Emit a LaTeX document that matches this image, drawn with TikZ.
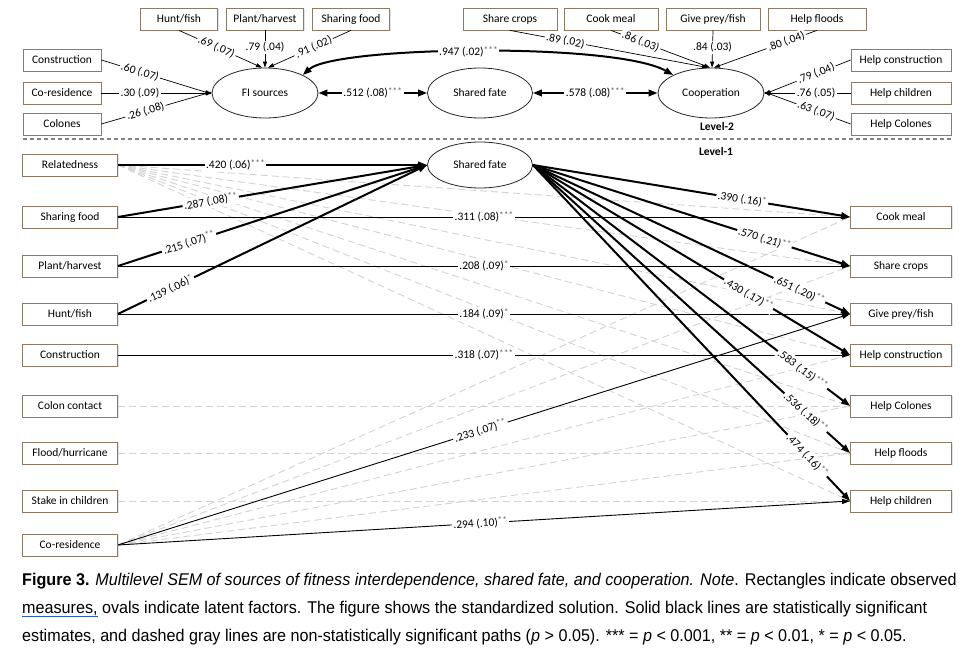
\documentclass[tikz,border=0pt]{standalone}
\usepackage{fontspec}
\setmainfont{Carlito}
\newfontfamily\capfont[FakeStretch=0.95]{Liberation Sans}
\usetikzlibrary{arrows.meta,shapes.geometric,calc,shadows}
\definecolor{boxline}{RGB}{140,122,102}
\definecolor{dashgray}{RGB}{210,210,210}
\definecolor{stargray}{RGB}{95,95,95}
\definecolor{linkblue}{RGB}{50,90,190}
\definecolor{sepgray}{RGB}{130,130,130}
\newcommand{\stz}[1]{\raisebox{0.45ex}{\textcolor{stargray}{\fontsize{9.5}{9.5}\selectfont #1}}}
\begin{document}
\begin{tikzpicture}[x=1pt,y=-1pt,
  font=\fontsize{11.5}{13}\selectfont,
  obs/.style={draw=boxline, line width=0.8pt, fill=white, minimum height=22pt, inner sep=0pt,
    drop shadow={shadow xshift=1.2pt, shadow yshift=-1.2pt, fill=black!22}},
  lobs/.style={obs, minimum width=95pt},
  robs/.style={obs, minimum width=101pt},
  lat/.style={ellipse, draw=black!85, line width=0.8pt, fill=white, minimum width=106pt, minimum height=50pt, inner sep=0pt},
  lab/.style={fill=white, inner sep=1.5pt, font=\fontsize{11.5}{13}\selectfont},
  thk/.style={line width=2pt, -{Triangle[length=9pt,width=6.5pt]}},
  thkdbl/.style={line width=2pt, {Triangle[length=9pt,width=6.5pt]}-{Triangle[length=9pt,width=6.5pt]}},
  thn/.style={line width=0.9pt, -{Triangle[length=8pt,width=5pt]}},
  ld/.style={line width=0.7pt, -{Triangle[length=6pt,width=4pt]}},
  ns/.style={dashgray, line width=0.9pt, dash pattern=on 7pt off 4pt},
  sepline/.style={sepgray, line width=1.2pt, dash pattern=on 4pt off 3pt},
  lvl/.style={font=\fontsize{11.5}{13}\selectfont\bfseries}
]
\useasboundingbox (0,0) rectangle (964,655);

% ---------------- Level 2 ----------------
\node[obs, minimum width=77pt] (hf2) at (179,19) {Hunt/fish};
\node[obs, minimum width=77pt] (ph2) at (265,19) {Plant/harvest};
\node[obs, minimum width=77pt] (sh2) at (351,19) {Sharing food};
\node[obs, minimum width=78pt] (con2) at (62,60) {Construction};
\node[obs, minimum width=78pt] (cor2) at (62,93) {Co-residence};
\node[obs, minimum width=78pt] (col2) at (62,124) {Colones};
\node[lat] (fi) at (265,93) {FI sources};
\node[lat, minimum width=105pt] (sf2) at (480,93) {Shared fate};
\node[lat] (coop) at (711,93) {Cooperation};
\node[obs, minimum width=94pt] (scr2) at (510,19) {Share crops};
\node[obs, minimum width=94pt] (ckm2) at (611,19) {Cook meal};
\node[obs, minimum width=94pt] (gpf2) at (713,19) {Give prey/fish};
\node[obs, minimum width=98pt] (hfl2) at (817,19) {Help floods};
\node[obs, minimum width=100pt] (hcon2) at (901,60) {Help construction};
\node[obs, minimum width=100pt] (hch2) at (901,93) {Help children};
\node[obs, minimum width=100pt] (hcol2) at (901,124) {Help Colones};

\draw[ld] (hf2.south) -- node[lab,sloped,pos=0.45]{.69 (.07)} ([xshift=-3pt]fi.north);
\draw[ld] (ph2.south) -- node[lab,pos=0.45]{.79 (.04)} (fi.north);
\draw[ld] (sh2.south) -- node[lab,sloped,pos=0.45]{.91 (.02)} ([xshift=3pt]fi.north);
\draw[ld] (con2.east) -- node[lab,sloped,pos=0.35]{.60 (.07)} ([yshift=-1pt]fi.west);
\draw[ld] (cor2.east) -- node[lab,pos=0.35]{.30 (.09)} (fi.west);
\draw[ld] (col2.east) -- node[lab,sloped,pos=0.4]{.26 (.08)} ([yshift=1pt]fi.west);

\draw[ld] (scr2.south) -- node[lab,sloped,pos=0.28]{.89 (.02)} ([xshift=-3pt]coop.north);
\draw[ld] (ckm2.south) -- node[lab,sloped,pos=0.3]{.86 (.03)} ([xshift=-1pt]coop.north);
\draw[ld] (gpf2.south) -- node[lab,pos=0.45]{.84 (.03)} ([xshift=1pt]coop.north);
\draw[ld] (hfl2.south) -- node[lab,sloped,pos=0.3]{.80 (.04)} ([xshift=3pt]coop.north);
\draw[ld] (hcon2.west) -- node[lab,sloped,pos=0.4]{.79 (.04)} ([yshift=-1pt]coop.east);
\draw[ld] (hch2.west) -- node[lab,pos=0.4]{.76 (.05)} (coop.east);
\draw[ld] (hcol2.west) -- node[lab,sloped,pos=0.4]{.63 (.07)} ([yshift=1pt]coop.east);

\draw[thkdbl] (fi.east) -- node[lab]{.512 (.08)\stz{***}} (sf2.west);
\draw[thkdbl] (sf2.east) -- node[lab]{.578 (.08)\stz{***}} (coop.west);
\draw[thkdbl] (fi.north east) .. controls (335,46) and (615,42) .. node[lab,pos=0.48]{.947 (.02)\stz{***}} (coop.north west);

\node[lvl] (lv2) at (717,127) {Level-2};
\coordinate (sepL) at (23,139);
\coordinate (sepR) at (951,139);
\draw[sepline] (sepL) -- (sepR);
\node[lvl] (lv1) at (716,152) {Level-1};

% ---------------- Level 1 ----------------
\node[lobs] (rel) at (70,165) {Relatedness};
\node[lobs] (shf) at (70,217) {Sharing food};
\node[lobs] (phv) at (70,266) {Plant/harvest};
\node[lobs] (hfs) at (70,314) {Hunt/fish};
\node[lobs] (con) at (70,355) {Construction};
\node[lobs] (colc) at (70,406) {Colon contact};
\node[lobs] (flood) at (70,453) {Flood/hurricane};
\node[lobs] (stake) at (70,501) {Stake in children};
\node[lobs] (cores) at (70,545) {Co-residence};

\node[robs] (cook) at (901,217) {Cook meal};
\node[robs] (scrop) at (901,266) {Share crops};
\node[robs] (gprey) at (901,314) {Give prey/fish};
\node[robs] (hcon) at (901,355) {Help construction};
\node[robs] (hcol) at (901,406) {Help Colones};
\node[robs] (hflo) at (901,453) {Help floods};
\node[robs] (hchi) at (901,501) {Help children};

\node[lat, minimum height=46pt, minimum width=105pt] (sf) at (480,165) {Shared fate};

% non-significant paths
\foreach \t in {cook,scrop,gprey,hcon,hcol,hflo,hchi}
  \draw[ns] (rel.east) -- (\t.west);
\foreach \t in {cook,scrop,hcon,hcol,hflo}
  \draw[ns] (cores.east) -- (\t.west);
\draw[ns] (colc.east) -- (hcol.west);
\draw[ns] (flood.east) -- (hflo.west);
\draw[ns] (stake.east) -- (hchi.west);

% direct predictor -> outcome paths
\draw[thn] (shf.east) -- node[lab,pos=0.5]{.311 (.08)\stz{***}} (cook.west);
\draw[thn] (phv.east) -- node[lab,pos=0.5]{.208 (.09)\stz{*}} (scrop.west);
\draw[thn] (hfs.east) -- node[lab,pos=0.5]{.184 (.09)\stz{*}} (gprey.west);
\draw[thn] (con.east) -- node[lab,pos=0.5]{.318 (.07)\stz{***}} (hcon.west);
\draw[thn] (cores.east) -- node[lab,sloped,pos=0.495]{.233 (.07)\stz{**}} (gprey.west);
\draw[thn] (cores.east) -- node[lab,sloped,pos=0.495]{.294 (.10)\stz{**}} (hchi.west);

% predictors -> shared fate
\draw[thk] (rel.east) -- node[lab,pos=0.38]{.420 (.06)\stz{***}} (sf.west);
\draw[thk] (shf.east) -- node[lab,sloped,pos=0.30]{.287 (.08)\stz{**}} (sf.west);
\draw[thk] (phv.east) -- node[lab,sloped,pos=0.23]{.215 (.07)\stz{**}} (sf.west);
\draw[thk] (hfs.east) -- node[lab,sloped,pos=0.17]{.139 (.06)\stz{*}} (sf.west);

% shared fate -> outcomes
\draw[thk] (sf.east) -- node[lab,sloped,pos=0.66]{.390 (.16)\stz{*}} (cook.west);
\draw[thk] (sf.east) -- node[lab,sloped,pos=0.73]{.570 (.21)\stz{**}} (scrop.west);
\draw[thk] (sf.east) -- node[lab,sloped,pos=0.84]{.651 (.20)\stz{**}} (gprey.west);
\draw[thk] (sf.east) -- node[lab,sloped,pos=0.68]{.430 (.17)\stz{**}} (hcon.west);
\draw[thk] (sf.east) -- node[lab,sloped,pos=0.85]{.583 (.15)\stz{***}} (hcol.west);
\draw[thk] (sf.east) -- node[lab,sloped,pos=0.86]{.536 (.18)\stz{**}} (hflo.west);
\draw[thk] (sf.east) -- node[lab,sloped,pos=0.865]{.474 (.16)\stz{**}} (hchi.west);

% ---------------- Caption ----------------
\begin{scope}[every node/.style={anchor=base west, inner sep=0pt, font=\capfont\fontsize{17}{20}\selectfont}]
\node (cap1) at (22,585) {\textbf{Figure 3.} \textit{Multilevel SEM of sources of fitness interdependence, shared fate, and cooperation. Note}. Rectangles indicate observed};
\node (cap2) at (22,613) {\textcolor{linkblue}{\underline{\textcolor{black}{measures,}}} ovals indicate latent factors. The figure shows the standardized solution. Solid black lines are statistically significant};
\node (cap3) at (22,641) {estimates, and dashed gray lines are non-statistically significant paths (\textit{p} > 0.05). *** = \textit{p} < 0.001, ** = \textit{p} < 0.01, * = \textit{p} < 0.05.};
\end{scope}
\end{tikzpicture}
\end{document}
